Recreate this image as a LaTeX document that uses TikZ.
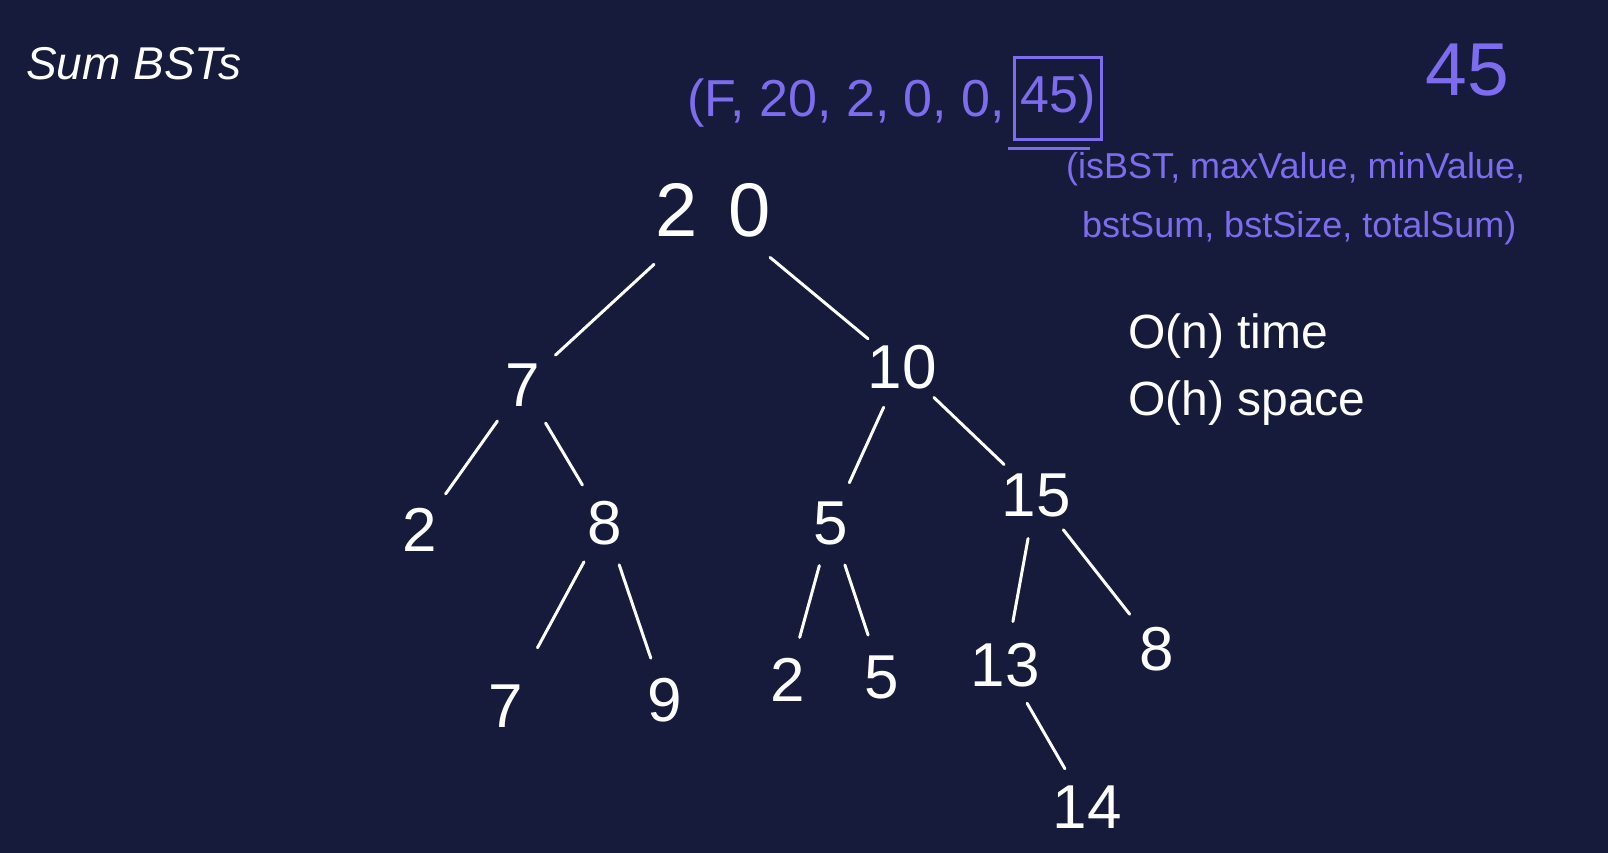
\documentclass[tikz,border=0pt]{standalone}
\usepackage{fontspec}
\setmainfont{Liberation Sans}
\usepackage{xcolor}
\usepackage{tikz}
\usetikzlibrary{positioning}
\definecolor{boardbg}{RGB}{22,27,60}
\definecolor{pen}{RGB}{126,108,238}
\newcommand{\rootsize}{\fontsize{76}{80}\selectfont}
\newcommand{\keysize}{\fontsize{62}{66}\selectfont}
\newcommand{\notesize}{\fontsize{48}{52}\selectfont}
\newcommand{\tuplesize}{\fontsize{52}{56}\selectfont}
\newcommand{\fieldsize}{\fontsize{36}{40}\selectfont}
\tikzset{
  key/.style={circle, inner sep=0pt, minimum size=88pt, text=white, font=\keysize},
  edge/.style={white, line width=3pt, line cap=round},
  purple note/.style={text=pen, inner sep=0pt, anchor=west}
}

\begin{document}
\begin{tikzpicture}[x=1pt,y=-1pt]
\fill[boardbg] (0,0) rectangle (1608,853);
\useasboundingbox (0,0) rectangle (1608,853);
\node[anchor=west, text=white, inner sep=0pt, font=\fontsize{46}{50}\selectfont\itshape] (title) at (26,64) {Sum BSTs};
\node[key, minimum size=148pt, font=\rootsize] (n20) at (713,210) {2\hspace{0.4em}0};
\node[key] (n7) at (523,385) {7};
\node[key] (n10) at (902,367) {10};
\node[key] (n2) at (420,530) {2};
\node[key] (n8) at (605,523) {8};
\node[key] (n5) at (831,523) {5};
\node[key] (n15) at (1036,495) {15};
\node[key] (n7b) at (506,706) {7};
\node[key] (n9) at (665,700) {9};
\node[key] (n2b) at (788,680) {2};
\node[key] (n5b) at (882,677) {5};
\node[key] (n13) at (1005,665) {13};
\node[key] (n8b) at (1157,649) {8};
\node[key] (n14) at (1087,807) {14};
\draw[edge, shorten <=6pt] (n20) -- (n7);
\draw[edge] (n20) -- (n10);
\draw[edge] (n7) -- (n2);
\draw[edge] (n7) -- (n8);
\draw[edge] (n10) -- (n5);
\draw[edge] (n10) -- (n15);
\draw[edge, shorten >=22pt] (n8) -- (n7b);
\draw[edge] (n8) -- (n9);
\draw[edge] (n5) -- (n2b);
\draw[edge] (n5) -- (n5b);
\draw[edge] (n15) -- (n13);
\draw[edge] (n15) -- (n8b);
\draw[edge] (n13) -- (n14);
\node[purple note, font=\tuplesize] (tuple) at (687,103) {(F, 20, 2, 0, 0,};
\node[draw=pen, line width=3pt, text=pen, inner sep=0pt, minimum width=87pt, minimum height=82pt, font=\tuplesize] (total) at (1058,99) {45)};
\draw[pen, line width=3pt] (total.south west) ++(-5,7) -- ++(82,0);
\node[text=pen, inner sep=0pt, font=\fontsize{75}{80}\selectfont] (answer) at (1467,70) {45};
\node[purple note, font=\fieldsize] (fields1) at (1066,169) {(isBST, maxValue, minValue,};
\node[purple note, font=\fieldsize] (fields2) at (1082,228) {bstSum,\ bstSize,\ totalSum)};
\node[anchor=west, text=white, inner sep=0pt, font=\notesize] (time) at (1128,336) {O(n) time};
\node[anchor=west, text=white, inner sep=0pt, font=\notesize] (space) at (1128,403) {O(h) space};
\end{tikzpicture}
\end{document}
